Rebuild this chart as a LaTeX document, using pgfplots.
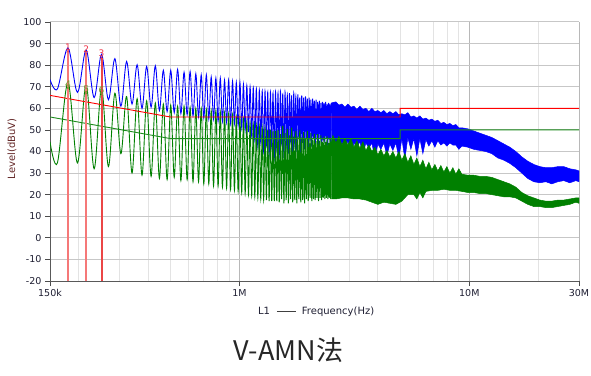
\documentclass[border=0pt]{standalone}
\usepackage{fontspec}
\setmainfont{DejaVu Sans}
\newfontfamily\cjk{Noto Sans CJK SC}
\usepackage{pgfplots}
\pgfplotsset{compat=1.18}
\definecolor{trblue}{RGB}{0,0,255}
\definecolor{trgreen}{RGB}{0,128,0}
\definecolor{limred}{RGB}{255,0,0}
\definecolor{limgreen}{RGB}{30,140,30}
\definecolor{ticktext}{RGB}{30,30,50}
\definecolor{ylab}{RGB}{100,40,40}
\definecolor{labred}{RGB}{240,50,70}
\definecolor{labgreen}{RGB}{110,150,40}
\definecolor{mkpink}{RGB}{245,120,120}
\definecolor{mkred}{RGB}{235,70,70}
\begin{document}
\begin{tikzpicture}
\path[use as bounding box] (-50pt,-94pt) rectangle (541pt,281pt);
\begin{axis}[
  scale only axis, width=529pt, height=259pt,
  xmode=log, xmin=150, xmax=30000, ymin=-20, ymax=100,
  axis x line*=bottom, axis y line*=left,
  axis line style={-, draw=black!65, line width=0.8pt},
  xtick={150,1000,10000,30000}, xticklabels={150k,1M,10M,30M},
  minor xtick={200,300,400,500,600,700,800,900,2000,3000,4000,5000,6000,7000,8000,9000,20000},
  ytick={-20,-10,0,10,20,30,40,50,60,70,80,90,100},
  grid=both,
  major x grid style={draw=black!28, line width=0.8pt},
  minor x grid style={draw=black!11, line width=0.8pt},
  major y grid style={draw=black!22, line width=1pt},
  tick align=outside, major tick length=5pt, minor tick length=0pt,
  tick style={draw=black!70, line width=0.7pt},
  tick label style={font=\fontsize{9.5}{11}\selectfont, text=ticktext},
  /pgf/number format/assume math mode=true,
  ylabel={Level(dBuV)},
  ylabel style={at={(axis description cs:-0.072,0.51)}, anchor=center, font=\fontsize{10}{12}\selectfont, text=ylab},
  xlabel={L1\hspace{7pt}\textcolor{black!75}{\rule[0.3em]{19pt}{0.7pt}}\hspace{6pt}Frequency(Hz)},
  xlabel style={at={(axis description cs:0.503,-0.1185)}, anchor=center, font=\fontsize{10}{12}\selectfont, text=ticktext},
]
% blue trace, discrete harmonics
\addplot[trblue, line width=0.9pt, smooth, tension=0.55] coordinates {
(150,73.3)(161.55,69)(179.5,88)(197.45,67.4)(215.4,87)(233.35,65)(251.3,85)(269.25,64)(287.2,83)(305.15,61)(323.1,81.7)(341.05,62)(359,80.2)(376.95,60)(394.9,79.4)(412.85,60.5)(430.8,79.7)(448.75,59)(466.7,77.6)(484.65,58.5)(502.6,77.6)(520.55,58)(538.5,78)(556.45,57.5)(574.4,76.7)(592.35,57)(610.3,77)(628.25,56.5)(646.2,76)(664.15,56)(682.1,75.5)(700.05,55.5)(718,75.5)(735.95,55)(753.9,74.5)(771.85,55)(789.8,74)(807.75,54)(825.7,74)(843.65,54)(861.6,73)(879.55,53.5)(897.5,73)(915.45,53)(933.4,72.5)(951.35,53)(969.3,72)(987.25,52)(1005.2,72)(1023.15,51)(1041.1,71)(1059.05,50)(1077,70.5)(1094.95,49)(1112.9,70)(1130.85,47)(1148.8,69.5)(1166.75,45)(1184.7,69)(1202.65,42)(1220.6,68.5)(1238.55,44)(1256.5,68)(1274.45,40)(1292.4,68)(1310.35,43)(1328.3,67.5)(1346.25,38)(1364.2,67.5)(1382.15,42)(1400.1,67)(1418.05,37)(1436,67.5)
(1453.95,41)(1471.9,67)(1489.85,38)(1507.8,68)(1525.75,44)(1543.7,66.5)(1561.65,37)(1579.6,67.5)(1597.55,42)(1615.5,66)(1633.45,39)(1651.4,67)(1669.35,45)(1687.3,66)(1705.25,37)(1723.2,67)(1741.15,43)(1759.1,65.5)(1777.05,40)(1795,66.5)(1812.95,46)(1830.9,65)(1848.85,38)(1866.8,66)(1884.75,44)(1902.7,65)(1920.65,41)(1938.6,65.5)(1956.55,46)(1974.5,64.5)(1992.45,39)(2010.4,65)(2028.35,45)(2046.3,64)(2064.25,42)(2082.2,64.5)(2100.15,46)(2118.1,63.5)(2136.05,40)(2154,64)(2171.95,45.5)(2189.9,63)(2207.85,43)(2225.8,63.5)(2243.75,46)(2261.7,62.5)(2279.65,41)(2297.6,63)(2315.55,45)(2333.5,62.5)(2351.45,44)(2369.4,63)(2387.35,46)(2405.3,62)(2423.25,42)(2441.2,62.5)(2459.15,45.5)(2477.1,62)(2495.05,43)(2513,62.5)
};
% blue trace, dense band
\addplot[draw=trblue, fill=trblue, line width=0.5pt] coordinates {
(2513,62.5)(2628,63)(2708,61.5)(2791,62)(2876,60.5)(2964,62)(3054,60.5)(3147,61)(3243,59.5)(3342,61)(3444,59.5)(3549,60)(3657,58.5)(3768,60)(3883,58.5)(4001,59)(4123,58)(4249,59)(4379,57.5)(4512,58.5)(4650,57.5)(4792,58.5)(4938,57)(5088,57.5)(5243,57)(5403,58)(5568,56)(5738,56.5)(5913,55.5)(6093,56.5)(6279,55)(6471,55.5)(6668,54.5)(6872,55)(7082,54)(7297,54.5)(7520,53)(7749,53.5)(7986,52.5)(8229,53)(8480,52)(8738,52.5)(9005,51)(9280,51)(9854,50.5)(10460,49.5)(11110,48.5)(11800,47.5)(12530,46.5)(13310,45)(14130,43.5)(15000,42)(15930,40)(16920,37.5)(17960,35.5)(19080,34)(20260,33)(21510,32.5)(22840,32.5)(24260,33)(25760,33)(27360,32)(29050,31.5)(30000,31)
(30000,26)(29050,26.5)(27360,25.5)(25760,26.5)(24260,26)(22840,25)(21510,26)(20260,25.5)(19080,26)(17960,27.5)(16920,30)(15930,32.5)(15000,34.5)(14130,36)(13310,37)(12530,39)(11800,40)(11110,40.5)(10460,41)(9854,42)(9280,42.5)(9005,41)(8738,43)(8480,43)(8229,44)(7986,42.5)(7749,44)(7520,43)(7297,45)(7082,42)(6872,45)(6668,42.5)(6471,45.5)(6279,39)(6093,46)(5913,38)(5738,46)(5568,41)(5403,46.5)(5243,36.5)(5088,46)(4938,37)(4792,44)(4650,40.5)(4512,43.5)(4379,38)(4249,44)(4123,41)(4001,43.5)(3883,37)(3768,44)(3657,41.5)(3549,44)(3444,38.5)(3342,44.5)(3243,42)(3147,44)(3054,38)(2964,45)(2876,41)(2791,44.5)(2708,37.5)(2628,45)(2550,41)(2513,44)
};
% green trace, discrete harmonics
\addplot[trgreen, line width=0.9pt, smooth, tension=0.55] coordinates {
(150,44.5)(161.55,34.7)(179.5,72)(197.45,34.7)(215.4,71)(233.35,32)(251.3,69.5)(269.25,33)(287.2,67)(305.15,39)(323.1,65.5)(341.05,30)(359,64.5)(376.95,29)(394.9,63.5)(412.85,28.5)(430.8,62.5)(448.75,27.5)(466.7,62)(484.65,27)(502.6,61.5)(520.55,28)(538.5,61)(556.45,26.5)(574.4,61)(592.35,27)(610.3,60.5)(628.25,26)(646.2,60)(664.15,26)(682.1,60)(700.05,25)(718,59.5)(735.95,25)(753.9,59)(771.85,24)(789.8,59)(807.75,24)(825.7,58.5)(843.65,23.5)(861.6,58)(879.55,23)(897.5,57.5)(915.45,22.5)(933.4,57)(951.35,22)(969.3,56)(987.25,21.5)(1005.2,55.5)(1023.15,21)(1041.1,55)(1059.05,20.5)(1077,54)(1094.95,20)(1112.9,53)(1130.85,19.5)(1148.8,52.5)(1166.75,19)(1184.7,52)(1202.65,18.5)(1220.6,51.5)(1238.55,18)(1256.5,51)(1274.45,17.5)(1292.4,50.5)(1310.35,17.5)(1328.3,50)(1346.25,17)(1364.2,50)(1382.15,17)(1400.1,49.5)(1418.05,17)(1436,49.5)
(1453.95,17)(1471.9,50)(1489.85,16.5)(1507.8,48)(1525.75,18)(1543.7,52)(1561.65,16)(1579.6,48.5)(1597.55,17.5)(1615.5,50.5)(1633.45,16)(1651.4,47.5)(1669.35,18)(1687.3,51)(1705.25,16.5)(1723.2,47)(1741.15,17.5)(1759.1,49.5)(1777.05,16)(1795,47)(1812.95,18)(1830.9,50)(1848.85,16.5)(1866.8,46.5)(1884.75,17.5)(1902.7,49)(1920.65,16)(1938.6,46)(1956.55,18)(1974.5,49.5)(1992.45,17)(2010.4,46)(2028.35,18.5)(2046.3,48.5)(2064.25,17)(2082.2,45.5)(2100.15,18)(2118.1,48)(2136.05,17.5)(2154,45)(2171.95,18.5)(2189.9,48)(2207.85,17)(2225.8,45)(2243.75,18.5)(2261.7,47.5)(2279.65,17.5)(2297.6,44.5)(2315.55,18.5)(2333.5,47)(2351.45,18)(2369.4,44.5)(2387.35,18.5)(2405.3,47)(2423.25,18)(2441.2,44)(2459.15,18.5)(2477.1,46.5)(2495.05,18)(2513,44.5)
};
% green trace, dense band
\addplot[draw=trgreen, fill=trgreen, line width=0.5pt] coordinates {
(2513,44.5)(2550,47.5)(2628,44)(2708,47)(2791,43)(2876,46)(2964,43)(3054,46)(3147,42)(3243,45)(3342,41.5)(3444,44.5)(3549,40.5)(3657,43)(3768,40)(3883,42)(4001,38.5)(4123,41)(4249,38)(4379,40.5)(4512,37.5)(4650,40)(4792,37)(4938,40)(5088,36)(5243,39)(5403,35)(5568,38)(5738,34)(5913,37)(6093,33)(6279,36)(6471,32)(6668,35)(6872,31.5)(7082,34)(7297,31)(7520,33.5)(7749,30.5)(7986,33)(8229,30)(8480,32.5)(8738,29.5)(9005,32)(9280,29.5)(9854,29)(10460,29)(11110,28.5)(11800,28.5)(12530,28)(13310,27)(14130,26)(15000,25)(15930,23.5)(16920,21)(17960,19.5)(19080,18.5)(20260,17.5)(21510,17)(22840,17)(24260,17.5)(25760,17.5)(27360,18)(29050,18.5)(30000,18.5)
(30000,16)(29050,16.5)(27360,15.5)(25760,15)(24260,14.5)(22840,14)(21510,14)(20260,14.5)(19080,14.5)(17960,15.5)(16920,17)(15930,18.5)(15000,19)(14130,19)(13310,19.5)(12530,20)(11800,20.5)(11110,20.5)(10460,21)(9854,21)(9280,21.5)(8738,22)(8229,22)(7749,22.5)(7297,22)(6872,22)(6471,21.5)(6279,18.5)(6093,21)(5913,18)(5738,20)(5403,20)(5088,17)(4792,15.5)(4512,16)(4249,16.5)(4001,15.5)(3768,16.5)(3549,17.5)(3342,18)(3147,18)(2964,18.5)(2791,18.5)(2628,18)(2513,18)
};
% limit lines
\addplot[limred, line width=0.9pt] coordinates {(150,66)(500,56)(5000,56)(5000,60)(30000,60)};
\addplot[limgreen, line width=0.9pt] coordinates {(150,56)(500,46)(5000,46)(5000,50)(30000,50)};
% marker lines
\addplot[mkpink, line width=1.3pt] coordinates {(179.5,-20)(179.5,86.5)};
\addplot[mkpink, line width=1.3pt] coordinates {(215.4,-20)(215.4,85.5)};
\addplot[mkred, line width=1.5pt] coordinates {(252,-20)(252,83.5)};
% marker labels
\addplot[only marks, mark=x, mark size=1.8pt, labred, point meta=explicit symbolic,
  nodes near coords, nodes near coords style={anchor=south, inner sep=0.5pt, font=\fontsize{9}{10}\selectfont, text=labred}]
  coordinates {(179.5,86.5)[1] (215.4,85.5)[2] (251.3,83.5)[3]};
\addplot[only marks, mark=x, mark size=1.8pt, labgreen, point meta=explicit symbolic,
  nodes near coords, nodes near coords style={anchor=south, inner sep=0.5pt, font=\fontsize{9}{10}\selectfont, text=labgreen}]
  coordinates {(179.5,69.5)[4] (215.4,67)[5] (251.3,66.5)[6]};
\end{axis}
\node[anchor=base, font=\cjk\fontsize{27}{30}\selectfont, text=black!85] at (238.5pt,-79pt) {V-AMN法};
\end{tikzpicture}
\end{document}
